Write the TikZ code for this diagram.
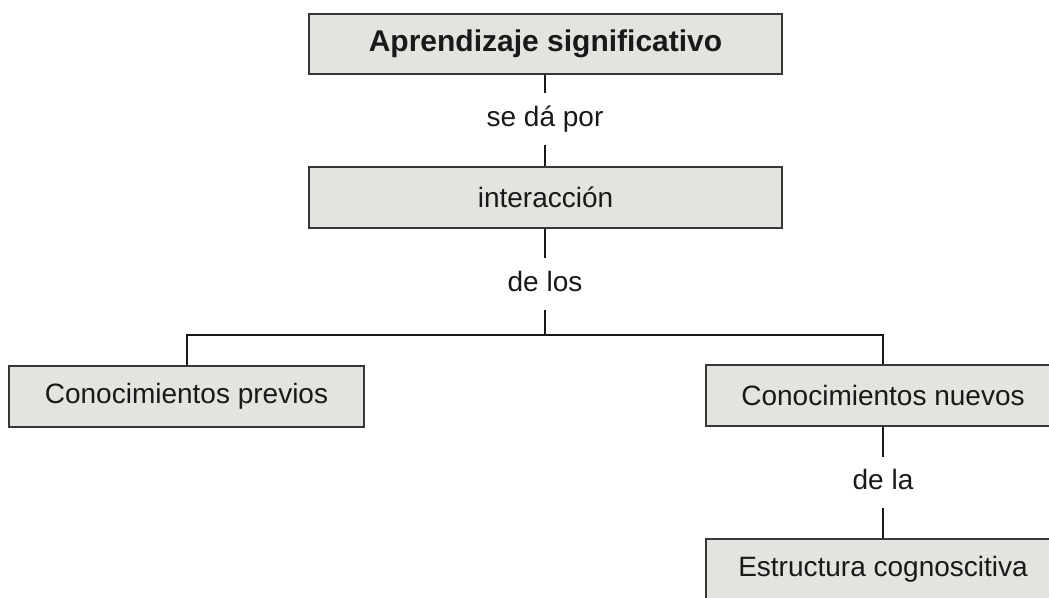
\documentclass[tikz,border=0pt]{standalone}
\usepackage{fontspec}
\setmainfont{Liberation Sans}
\definecolor{boxfill}{RGB}{228,227,223}
\definecolor{boxline}{RGB}{55,55,55}
\definecolor{ink}{RGB}{25,25,25}
\begin{document}
\begin{tikzpicture}[x=1pt,y=-1pt,
  concept/.style={draw=boxline,line width=1.3pt,fill=boxfill,text=ink,
    font=\fontsize{28}{30}\selectfont,minimum height=61pt,inner sep=0pt},
  linkword/.style={text=ink,font=\fontsize{28}{30}\selectfont,inner sep=0pt,
    text height=20pt,text depth=6pt},
  conn/.style={draw=ink,line width=2pt}]
\useasboundingbox (0,0) rectangle (1049,597);
\clip (0,0) rectangle (1049,597);
\node[concept,minimum width=473pt,minimum height=60pt,font=\fontsize{30}{32}\selectfont\bfseries] (top) at (545.5,44) {Aprendizaje significativo};
\node[linkword,minimum height=52pt] (l1) at (545,119) {se dá por};
\node[concept,minimum width=473pt] (inter) at (545.5,197.5) {interacción};
\node[linkword,minimum height=52pt] (l2) at (545,284) {de los};
\coordinate (j) at (545,335);
\node[concept,minimum width=355pt] (prev) at (186.5,396.5) {Conocimientos previos};
\node[concept,minimum width=354pt] (nuev) at (883,395.5) {Conocimientos nuevos};
\node[linkword,minimum height=51pt] (l3) at (883,482.5) {de la};
\node[concept,minimum width=354pt] (estr) at (883,569.5) {Estructura cognoscitiva};
\draw[conn] (top.south -| l1.north) -- (l1.north);
\draw[conn] (l1.south) -- (l1.south |- inter.north);
\draw[conn] (inter.south -| l2.north) -- (l2.north);
\draw[conn] (l2.south) -- (j);
\draw[conn] (prev.north) |- (j) -| (nuev.north);
\draw[conn] (nuev.south) -- (l3.north);
\draw[conn] (l3.south) -- (estr.north);
\end{tikzpicture}
\end{document}
